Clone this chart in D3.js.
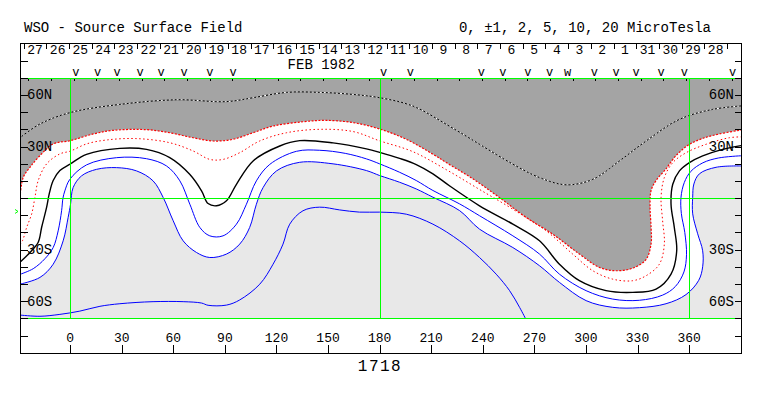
<!DOCTYPE html>
<html>
<head>
<meta charset="utf-8">
<title>WSO - Source Surface Field</title>
<script src="https://cdn.jsdelivr.net/npm/d3@7"></script>
<style>
  body { margin: 0; background: #fff; }
  text { font-family: "Liberation Mono", "DejaVu Sans Mono", monospace; fill: #000; }
</style>
</head>
<body>
<div id="chart"></div>
<script>
// contour lines, [carrington longitude, latitude]
var cNeg5 = [[-29.2,35.1],[-17.6,43.1],[-0.2,49.7],[28.9,54.5],[61.8,57.2],[90.9,56.1],[106.4,58.4],[125.8,61.5],[145.1,61.5],[164.5,60.3],[180,58.4],[199.3,53.6],[218.8,42.9],[238.1,31.3],[257.5,19.7],[273,11.9],[288.5,7.7],[304,10.9],[319.5,21.6],[335,33.2],[354.3,45.8],[373.7,51.6],[390.2,53.6]];
var cNeg2 = [[-29.2,0.5],[-27.3,12.1],[-23.4,17.9],[-17.6,24.7],[-9.9,31.5],[0,33.4],[13.4,37.3],[25,39.4],[44.4,39.8],[57.9,38],[71.5,35.1],[83.1,33.2],[94.7,34.2],[106.4,38],[118,41.9],[135.4,44.4],[149,45.2],[164.5,43.9],[180,40.2],[195.5,34.2],[211,25.5],[219,20.5],[234.2,11.2],[249.7,0.3],[265.3,-11.3],[280.7,-21],[296.2,-32.6],[307.9,-40.4],[317.6,-42.3],[327.2,-40.8],[335,-35.7],[337.9,-26.6],[337.9,-17],[337.3,-5.3],[337.9,4.4],[340.8,10.2],[346.6,17],[352.4,24.7],[360,31.1],[367.9,34.7],[377.6,37.3],[390.2,39.6]];
var cNeg1 = [[-29.2,-27],[-27.7,-24.7],[-25.3,-17],[-22.4,-9.2],[-20.5,0.5],[-18.6,10.2],[-13.7,19.9],[-6,25.7],[0,27.3],[9.5,31.5],[21.2,33.8],[38.6,34.6],[57.9,32.2],[71.5,27.4],[81.2,22.5],[88.9,22.5],[98.6,26.4],[110.2,33.2],[125.8,38],[145.1,40],[164.5,38.7],[180,33.3],[199.3,27],[218.8,16.5],[238.1,5],[257.5,-6.5],[276.9,-19.1],[292.3,-32.6],[304,-42.3],[315.6,-47.2],[327.2,-48.1],[335,-45.2],[342.7,-38.5],[345.6,-26.8],[344.6,-13.2],[343.7,0.3],[345.6,11.9],[350.5,20.6],[358.3,26.4],[369.9,31.3],[383.4,35.1],[390.2,35.6]];
var cZero = [[-29.2,-37.3],[-23.4,-31.7],[-18.6,-25.7],[-16.6,-17],[-13.7,-5.3],[-12.2,2.4],[-9.9,10.2],[-6,16],[0,19.8],[9.5,25.4],[28.9,28.9],[44.4,28.3],[57.9,23.5],[69.5,13.8],[76.4,4.2],[80.2,-3.2],[85.1,-4.5],[90.9,-1.6],[96.7,8],[106.4,21.6],[121.9,30.3],[133.5,33.4],[152.9,32.1],[172.3,28.6],[180,26.6],[191.6,23.1],[201.3,19.5],[211,14.1],[220.8,7],[238.1,-4.5],[257.5,-15.2],[273,-24.9],[284.6,-38.5],[296.2,-48.1],[311.7,-53.9],[327.2,-54.9],[340.8,-53],[349.5,-44.3],[352.8,-30.7],[351.4,-17.1],[349.5,-3.6],[350.5,8],[354.4,15.8],[360.2,20.6],[367.9,24.5],[379.5,28.3],[390.2,30.5]];
var cPos1 = [[-29.2,-44.4],[-21.5,-41.1],[-14.7,-35.3],[-9.9,-28.8],[-7,-19.1],[-5,-7.4],[-4.2,0],[-3.1,4.2],[-0.2,10.9],[9.5,19.3],[27,23.5],[44.4,22.9],[56,18.7],[63.8,10],[69.6,-3.6],[75.4,-17.1],[81.2,-22],[88.9,-22],[96.7,-15.2],[102.5,-3.6],[108.3,10],[116.1,19.6],[131.6,27.2],[145.1,27.8],[160,26],[172.3,22.8],[180,19.9],[191.6,15],[201.3,10.2],[211,4.4],[226.5,-3.4],[238.1,-10.3],[257.5,-22],[273,-32.6],[284.6,-44.3],[300.1,-53.9],[315.6,-58.8],[331.1,-59.5],[344.6,-56.5],[352,-51.5],[357,-43],[358.5,-33],[357.5,-20],[355.5,-9],[355.3,0.5],[357.2,9],[361,15.5],[368,20.5],[377,23.3],[390.2,24.6]];
var cPos2 = [[-29.2,-50.1],[-17.6,-46.2],[-9.9,-38.5],[-4.1,-24.9],[-1.2,-11.3],[0.2,-3.6],[1.7,6.1],[6.6,12.9],[15.3,16.7],[27,17.7],[38.6,15.8],[48.2,10],[54.1,0.3],[59.9,-13.2],[65.7,-24.9],[73.5,-31.7],[81.2,-34.6],[90.9,-32.6],[98.6,-26.8],[104.4,-17.1],[108.3,-3.6],[112.2,6.1],[120,15.8],[133.5,20.8],[152.9,19.9],[172.3,16],[180,13.1],[191.6,9.2],[201.3,5.3],[211,0.5],[226.5,-7.3],[238.1,-18.1],[257.5,-28.8],[273,-39.4],[284.6,-49.1],[300.1,-59.7],[315.6,-63.6],[331.1,-63.8],[346.6,-61.5],[358.2,-56.2],[365.6,-47.9],[367.9,-40],[367.9,-30.7],[365,-20.8],[362.1,-9.2],[362.1,0.5],[362.8,8.2],[366,14.1],[375.7,17.9],[390.2,18.7]];
var cPos5 = [[-29.2,-68.1],[-17.6,-68.8],[-6,-67.7],[5.6,-65.8],[17.3,-63],[28.9,-61.5],[48.2,-60.3],[65.7,-60.3],[76.4,-61.1],[80.2,-62.4],[90.9,-62.3],[98.6,-59.3],[110.3,-50.1],[118,-38.5],[123.8,-26.8],[127.7,-15.2],[135.4,-7.4],[145.1,-5.3],[156.7,-6.9],[168.3,-8.2],[180,-8.2],[195.5,-9.4],[211,-15.2],[226.5,-24.9],[238.1,-34.6],[247.8,-44.3],[255.6,-53.9],[261.4,-63.6],[265.3,-71]];

// date strip, right to left in time
var days = ["27","26","25","24","23","22","21","20","19","18","17","16","15","14","13","12","11","10","9","8","7","6","5","4","3","2","1","31","30","29","28"];
var dayLon0 = -27.1;              // longitude of the first day tick
var dayStep = 360 / 27.2753;      // degrees per day
var obsLon = [3.3,15.9,27.3,40.7,52.9,66.3,81.2,94.7,182.3,197.8,239.1,251.7,266.2,278.8,304.9,317.6,329.2,343.7,357.3,385.3];
var obsW = [289.4];
var lonTicks = d3.range(0, 361, 30);
var latTicks = d3.range(-80, 81, 10);
var latLabels = [[60, "60N"], [30, "30N"], [-30, "30S"], [-60, "60S"]];
var gridLon = [0, 180, 360];
var b0 = -7.8;

var W = 763, H = 396;
var x = d3.scaleLinear().domain([-29.2, 390.2]).range([20, 741]);
var y = d3.scaleLinear().domain([-90, 90]).range([352.7, 43.4]);
function px(v) { return Math.round(v) + 0.5; }

var svg = d3.select("#chart").append("svg")
    .attr("width", W).attr("height", H);

var pTop = px(y(70)), pBot = px(y(-70)), pLeft = px(x.range()[0]), pRight = px(x.range()[1]);

svg.append("clipPath").attr("id", "plot")
  .append("rect").attr("x", pLeft).attr("y", pTop)
  .attr("width", pRight - pLeft).attr("height", pBot - pTop);

var line = d3.line()
    .x(function(d) { return x(d[0]); })
    .y(function(d) { return y(d[1]); })
    .curve(d3.curveCatmullRom.alpha(0.5));

// region above a contour, closed across the pole
function above(pts) {
  return line(pts) + "L" + x(420) + "," + y(90) + "L" + x(-60) + "," + y(90) + "Z";
}

var g = svg.append("g").attr("clip-path", "url(#plot)");
g.append("rect").attr("x", pLeft).attr("y", pTop)
  .attr("width", pRight - pLeft).attr("height", pBot - pTop).attr("fill", "#e8e8e8");
g.append("path").attr("d", above(cPos2)).attr("fill", "#ffffff");
g.append("path").attr("d", above(cNeg2)).attr("fill", "#a4a4a4");

function contour(pts, color, width, dash) {
  g.append("path").attr("d", line(pts))
    .attr("fill", "none").attr("stroke", color)
    .attr("stroke-width", width)
    .attr("stroke-dasharray", dash || null);
}
contour(cPos5, "#0000ff", 1);
contour(cPos2, "#0000ff", 1);
contour(cPos1, "#0000ff", 1);
contour(cZero, "#000000", 1.4);
contour(cNeg1, "#ff0000", 1, "1.5,2.5");
contour(cNeg2, "#ff0000", 1.2, "2,1.5");
contour(cNeg5, "#000000", 1);
contour(cNeg5, "#ffffff", 1, "2,2");

// green grid
var grid = svg.append("g").attr("stroke", "#00ff00").attr("stroke-width", 1)
    .attr("shape-rendering", "crispEdges");
grid.selectAll("line.v").data(gridLon).enter().append("line")
    .attr("x1", function(d) { return px(x(d)); }).attr("x2", function(d) { return px(x(d)); })
    .attr("y1", pTop).attr("y2", pBot);
grid.selectAll("line.h").data([70, 0, -70]).enter().append("line")
    .attr("x1", pLeft).attr("x2", pRight)
    .attr("y1", function(d) { return px(y(d)); }).attr("y2", function(d) { return px(y(d)); });

// earth latitude marker
svg.append("path")
    .attr("d", "M15," + (y(b0) - 2) + "L18," + y(b0) + "L15," + (y(b0) + 2))
    .attr("fill", "none").attr("stroke", "#00ff00").attr("stroke-width", 1);

// frame
var ax = svg.append("g").attr("stroke", "#000").attr("stroke-width", 1)
    .attr("shape-rendering", "crispEdges");
ax.append("rect").attr("x", pLeft).attr("y", px(y(90)))
  .attr("width", pRight - pLeft).attr("height", px(y(-90)) - px(y(90)))
  .attr("fill", "none");

// latitude ticks both sides
ax.selectAll("line.l").data(latTicks).enter().append("line")
  .attr("x1", pLeft).attr("x2", pLeft + 7)
  .attr("y1", function(d) { return px(y(d)); }).attr("y2", function(d) { return px(y(d)); });
ax.selectAll("line.r").data(latTicks).enter().append("line")
  .attr("x1", pRight).attr("x2", pRight - 7)
  .attr("y1", function(d) { return px(y(d)); }).attr("y2", function(d) { return px(y(d)); });

// longitude ticks
ax.selectAll("line.b").data(lonTicks).enter().append("line")
  .attr("x1", function(d) { return px(x(d)); }).attr("x2", function(d) { return px(x(d)); })
  .attr("y1", px(y(-90))).attr("y2", px(y(-90)) - 9);

// day ticks in the date strip and on the top of the map
var dayIdx = d3.range(days.length + 1);
ax.selectAll("line.d").data(dayIdx).enter().append("line")
  .attr("x1", function(i) { return px(x(dayLon0 + i * dayStep)); })
  .attr("x2", function(i) { return px(x(dayLon0 + i * dayStep)); })
  .attr("y1", px(y(90))).attr("y2", px(y(90)) + 5);
ax.selectAll("line.t").data(dayIdx.filter(function(i) {
    var l = dayLon0 + (i + 0.2) * dayStep; return l > x.domain()[0] && l < x.domain()[1];
  })).enter().append("line")
  .attr("x1", function(i) { return px(x(dayLon0 + (i + 0.2) * dayStep)); })
  .attr("x2", function(i) { return px(x(dayLon0 + (i + 0.2) * dayStep)); })
  .attr("y1", pTop).attr("y2", pTop + 2);

svg.selectAll("text.day").data(days).enter().append("text")
  .attr("x", function(d, i) { return x(dayLon0 + (i + 0.5) * dayStep); })
  .attr("y", 54).attr("text-anchor", "middle").attr("font-size", 13)
  .text(function(d) { return d; });

svg.append("text").attr("x", x(146)).attr("y", 68.5).attr("text-anchor", "middle")
  .attr("font-size", 14).text("FEB 1982");

svg.selectAll("text.obs").data(obsLon).enter().append("text")
  .attr("x", function(d) { return x(d); }).attr("y", 75.5)
  .attr("text-anchor", "middle").attr("font-size", 12).text("v");
svg.selectAll("text.obsw").data(obsW).enter().append("text")
  .attr("x", function(d) { return x(d); }).attr("y", 75.5)
  .attr("text-anchor", "middle").attr("font-size", 12).text("w");

// axis labels
svg.selectAll("text.lon").data(lonTicks).enter().append("text")
  .attr("x", function(d) { return x(d); }).attr("y", 341.5)
  .attr("text-anchor", "middle").attr("font-size", 13)
  .text(function(d) { return d; });
svg.selectAll("text.latl").data(latLabels).enter().append("text")
  .attr("x", pLeft + 6.5).attr("y", function(d) { return y(d[0]) + 4.5; })
  .attr("font-size", 14).text(function(d) { return d[1]; });
svg.selectAll("text.latr").data(latLabels).enter().append("text")
  .attr("x", pRight - 7.5).attr("y", function(d) { return y(d[0]) + 4.5; })
  .attr("text-anchor", "end").attr("font-size", 14).text(function(d) { return d[1]; });

// titles
svg.append("text").attr("x", 24).attr("y", 32).attr("font-size", 14)
  .text("WSO - Source Surface Field");
svg.append("text").attr("x", 711).attr("y", 32).attr("font-size", 14)
  .attr("text-anchor", "end").text("0, \u00b11, 2, 5, 10, 20 MicroTesla");
svg.append("text").attr("x", 380).attr("y", 371).attr("font-size", 16)
  .attr("text-anchor", "middle").attr("letter-spacing", 1.5).text("1718");
</script>
</body>
</html>
